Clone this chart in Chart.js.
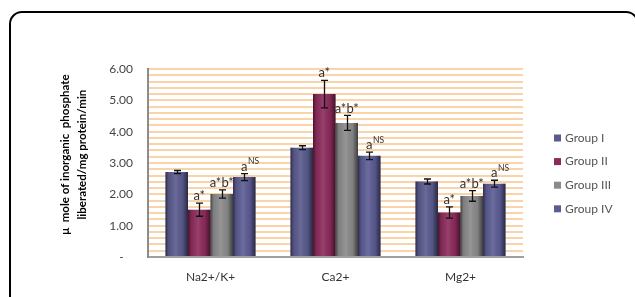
<!DOCTYPE html>
<html>
<head>
<meta charset="utf-8">
<script src="https://cdn.jsdelivr.net/npm/chart.js@4"></script>
<style>
  html, body { margin: 0; padding: 0; background: #fff; }
  #wrap { position: relative; width: 635px; height: 297px; overflow: hidden; }
  #frame { position: absolute; left: 9px; top: 11px; width: 626px; height: 300px;
           border: 2px solid #000; border-radius: 13px; pointer-events: none; }
  canvas { position: absolute; left: 0; top: 0; }
</style>
</head>
<body>
<div id="wrap">
  <canvas id="chart" width="635" height="297"></canvas>
  <div id="frame"></div>
</div>
<script>
const categories = ['Na2+/K+', 'Ca2+', 'Mg2+'];
const groupNames = ['Group I', 'Group II', 'Group III', 'Group IV'];
const group1 = [2.71, 3.49, 2.41];
const group2 = [1.51, 5.20, 1.42];
const group3 = [2.01, 4.28, 1.95];
const group4 = [2.55, 3.23, 2.34];
const err1 = [0.05, 0.06, 0.08];
const err2 = [0.21, 0.44, 0.18];
const err3 = [0.13, 0.24, 0.17];
const err4 = [0.11, 0.12, 0.11];
const marks = ['', 'a*', 'a*b*', 'a'];
const supMarks = ['', '', '', 'NS'];
const colors = ['#5a5a8e', '#8c2b5b', '#8a8a8a', '#5c5c94'];

const FONT = 'Lato, "Open Sans", sans-serif';
const values = [group1, group2, group3, group4];
const errors = [err1, err2, err3, err4];

// cylinder-like shading and error bars, placed through the chart's own scales
const decor = {
  id: 'decor',
  afterDatasetsDraw(chart) {
    const ctx = chart.ctx;
    const y = chart.scales.y;
    chart.data.datasets.forEach((ds, i) => {
      const meta = chart.getDatasetMeta(i);
      meta.data.forEach(bar => {
        const l = bar.x - bar.width / 2, r = bar.x + bar.width / 2;
        const g = ctx.createLinearGradient(l, 0, r, 0);
        g.addColorStop(0, 'rgba(0,0,0,0.5)');
        g.addColorStop(0.14, 'rgba(0,0,0,0.08)');
        g.addColorStop(0.45, 'rgba(255,255,255,0.10)');
        g.addColorStop(0.75, 'rgba(0,0,0,0.05)');
        g.addColorStop(1, 'rgba(0,0,0,0.55)');
        ctx.fillStyle = g;
        ctx.fillRect(l, bar.y, bar.width, bar.base - bar.y);
      });
    });
    ctx.save();
    ctx.strokeStyle = '#111';
    ctx.lineWidth = 1.3;
    chart.data.datasets.forEach((ds, i) => {
      const meta = chart.getDatasetMeta(i);
      meta.data.forEach((bar, j) => {
        const v = values[i][j], e = errors[i][j];
        const top = y.getPixelForValue(v + e), bot = y.getPixelForValue(v - e);
        const x = Math.round(bar.x) + 0.5;
        ctx.beginPath();
        ctx.moveTo(x, top); ctx.lineTo(x, bot);
        ctx.moveTo(x - 3.5, top); ctx.lineTo(x + 3.5, top);
        ctx.moveTo(x - 3.5, bot); ctx.lineTo(x + 3.5, bot);
        ctx.stroke();
        if (marks[i]) {
          ctx.fillStyle = '#333';
          ctx.font = '13px ' + FONT;
          ctx.textBaseline = 'middle';
          const ty = top - 7;
          if (supMarks[i]) {
            const w = ctx.measureText(marks[i]).width;
            ctx.textAlign = 'left';
            ctx.fillText(marks[i], bar.x - w / 2, ty);
            ctx.font = '8.5px ' + FONT;
            ctx.fillText(supMarks[i], bar.x + w / 2 + 0.5, ty - 5);
          } else {
            ctx.textAlign = 'center';
            ctx.fillText(marks[i], bar.x, ty);
          }
        }
      });
    });
    ctx.restore();
  },
  afterDraw(chart) {
    const ctx = chart.ctx;
    ctx.save();
    ctx.font = '12px ' + FONT;
    ctx.textBaseline = 'middle';
    ctx.textAlign = 'left';
    chart.data.datasets.forEach((ds, i) => {
      const cy = 138 + i * 23.6;
      ctx.fillStyle = ds.backgroundColor;
      ctx.fillRect(554, cy - 3.5, 7, 7);
      ctx.fillStyle = '#555';
      ctx.fillText(ds.label, 565, cy);
    });
    ctx.restore();
  }
};

new Chart(document.getElementById('chart'), {
  type: 'bar',
  data: {
    labels: categories,
    datasets: values.map((v, i) => ({
      label: groupNames[i],
      data: v,
      backgroundColor: colors[i],
      borderWidth: 0,
      categoryPercentage: 0.72,
      barPercentage: 1.0
    }))
  },
  options: {
    responsive: false,
    animation: false,
    layout: { padding: { top: 69, right: 112, left: 0, bottom: 0 } },
    plugins: { legend: { display: false }, tooltip: { enabled: false } },
    scales: {
      x: {
        grid: { display: false },
        border: { color: '#a0a0a0', width: 2 },
        ticks: { color: '#333', font: { family: FONT, size: 12 }, padding: 5 },
        afterFit(s) { s.height = 40; }
      },
      y: {
        min: 0, max: 6,
        grid: { color: '#fbd3a8', lineWidth: 2, drawTicks: false },
        border: { color: '#8c8c8c', width: 2 },
        ticks: {
          stepSize: 0.2, autoSkip: false, padding: 15,
          color: '#444', font: { family: FONT, size: 12 },
          callback(v) {
            if (Math.abs(v - Math.round(v)) > 1e-6) return '';
            return Math.round(v) === 0 ? '-   ' : Math.round(v).toFixed(2);
          }
        },
        title: {
          display: true,
          text: ['\u00a0\u00a0\u00a0\u00a0\u00a0\u00a0μ  mole of inorganic  phosphate',
                 '\u00a0\u00a0\u00a0\u00a0\u00a0\u00a0liberated/mg protein/min'],
          color: '#000',
          font: { family: FONT, size: 11.5, weight: 'bold', lineHeight: 1.45 },
          padding: { top: 57, bottom: 0 }
        },
        afterFit(s) { s.width = 148; }
      }
    }
  },
  plugins: [decor]
});
</script>
</body>
</html>
